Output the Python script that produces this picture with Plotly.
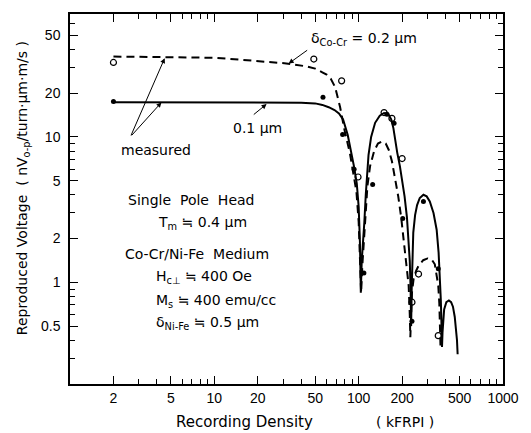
import plotly.graph_objects as go

# ---- data ----
solid_x = [2, 5, 10, 20, 30, 40, 50, 56, 62, 68, 73, 78, 84, 89, 93, 97, 100, 102, 103.5,
           105, 107, 109.5, 112, 114, 117, 122, 130, 140, 150, 160, 168, 174, 179, 185, 193,
           200, 208, 216, 222, 226, 229, 231, 233, 236, 239, 246, 254, 265, 281, 296, 311,
           330, 347, 358, 366, 371, 375, 378, 381, 384, 391, 405, 422, 437, 450, 463, 474,
           480, 485]
solid_y = [17.3, 17.3, 17.3, 17.3, 17.3, 17.2, 17.0, 16.6, 16.0, 15.3, 14.5, 13.2, 10.3, 7.9,
           6.2, 4.8, 3.3, 1.9, 0.85,
           1.4, 1.8, 2.6, 4.0, 5.3, 7.5, 10.0, 12.5, 14.0, 14.6, 14.4, 13.2, 11.5, 9.5, 7.8, 6.3,
           5.1, 3.9, 2.8, 2.0, 1.4, 0.9, 0.5, 0.9, 1.6, 2.2, 2.9, 3.4, 3.8, 4.0, 3.9, 3.6,
           3.0, 2.3, 1.6, 1.1, 0.75, 0.5, 0.36, 0.45, 0.55, 0.65, 0.73, 0.75, 0.73, 0.68, 0.58, 0.47,
           0.4, 0.32]

dash_x = [2, 5, 10, 15, 20.6, 31.5, 43, 50, 56, 60, 64, 68.7, 74.4, 80, 87, 91.5, 96.5, 100,
          102.5, 104, 106, 110, 115, 120, 128, 136, 145, 154, 162, 170, 180, 188, 197, 204,
          210, 216, 222, 226, 228, 231, 234, 240, 250, 260, 280, 300, 320, 337, 350, 356,
          362, 366, 369]
dash_y = [35.7, 35.5, 35.0, 34.0, 33.3, 32.0, 30.6, 29.5, 27.8, 26.8, 25.2, 22.0, 16.0, 11.0,
          7.7, 5.9, 4.2, 2.6,
          1.4, 0.85, 1.3, 2.4, 4.6, 6.3, 8.0, 9.0, 9.3, 9.0, 8.1, 6.8, 5.1, 3.9, 2.8, 2.1,
          1.6, 1.25, 0.95, 0.6, 0.42, 0.6, 0.85, 1.05, 1.2, 1.3, 1.42, 1.46, 1.44, 1.33, 1.1, 0.95,
          0.72, 0.55, 0.36]

meas01_x = [2, 56.6, 77.4, 93, 108.7, 125, 157, 176, 202, 234, 281, 356]
meas01_y = [17.5, 18.7, 10.4, 6.0, 1.16, 4.7, 14.3, 12.4, 2.75, 0.54, 3.6, 1.24]

meas02_x = [2, 48.9, 76.2, 99, 150, 170, 200, 234, 260, 356]
meas02_y = [32.5, 34.3, 24.3, 5.3, 14.7, 13.4, 7.1, 0.73, 1.14, 0.43]

x_major = [2, 5, 10, 20, 50, 100, 200, 500, 1000]
x_major_text = ["2", "5", "10", "20", "50", "100", "200", "500", "1000"]
x_minor = [1, 3, 4, 6, 7, 8, 9, 30, 40, 60, 70, 80, 90, 300, 400, 600, 700, 800, 900]
y_major = [0.5, 1, 2, 5, 10, 20, 50]
y_major_text = ["0.5", "1", "2", "5", "10", "20", "50"]
y_minor = [0.3, 0.4, 0.6, 0.7, 0.8, 0.9, 3, 4, 6, 7, 8, 9, 30, 40, 60]

# ---- layout geometry (pixels of the 531x433 page) ----
L, R, T, B = 70, 509, 13, 384
W, H = 531, 433


def px(X):
    return (X - L) / (R - L)


def py(Y):
    return (B - Y) / (B - T)


FONT = "DejaVu Sans"
fig = go.Figure()
fig.add_trace(go.Scatter(x=solid_x, y=solid_y, mode="lines",
                         line=dict(color="black", width=2), showlegend=False))
fig.add_trace(go.Scatter(x=dash_x, y=dash_y, mode="lines",
                         line=dict(color="black", width=2, dash="8px,5px"), showlegend=False))
fig.add_trace(go.Scatter(x=meas01_x, y=meas01_y, mode="markers",
                         marker=dict(symbol="circle", size=5, color="black"), showlegend=False))
fig.add_trace(go.Scatter(x=meas02_x, y=meas02_y, mode="markers",
                         marker=dict(symbol="circle-open", size=6, color="black",
                                     line=dict(width=1.2)), showlegend=False))

axis_common = dict(type="log", showline=True, linecolor="black", linewidth=1.5,
                   ticks="inside", ticklen=8, tickwidth=1, tickcolor="black",
                   mirror="ticks", showgrid=False, zeroline=False,
                   tickfont=dict(family="Liberation Sans", size=14, color="black"))

fig.update_xaxes(range=[0, 3], tickvals=x_major, ticktext=x_major_text,
                 minor=dict(tickvals=x_minor, ticks="inside", ticklen=5,
                            tickcolor="black", showgrid=False),
                 **axis_common)
fig.update_yaxes(range=[-0.69897, 1.845098], tickvals=y_major, ticktext=y_major_text,
                 minor=dict(tickvals=y_minor, ticks="inside", ticklen=5,
                            tickcolor="black", showgrid=False),
                 ticklabelstandoff=5,
                 **axis_common)

ann = []


def text(X, Y, s, anchor="left", size=14):
    ann.append(dict(x=px(X), y=py(Y), xref="paper", yref="paper", text=s,
                    showarrow=False, xanchor=anchor, yanchor="middle",
                    font=dict(family=FONT, size=size, color="black")))


def arrow(Xh, Yh, Xt, Yt):
    ann.append(dict(x=px(Xh), y=py(Yh), xref="paper", yref="paper", text="",
                    showarrow=True, ax=Xt - Xh, ay=Yt - Yh, arrowhead=2,
                    arrowsize=1, arrowwidth=1, arrowcolor="black", standoff=0))


NB = "\u00a0"
text(312, 38, "δ<sub>Co-Cr</sub>" + NB + "=" + NB + "0.2" + NB + "µm")
arrow(291.7, 62.7, 311.7, 48.3)
text(233, 127, "0.1" + NB + "µm")
arrow(269.3, 103.3, 255, 115)
text(120, 149, "measured")
arrow(166, 57.3, 131.7, 136)
arrow(162.7, 101.7, 131.7, 136)
text(127, 200, "Single" + NB * 2 + "Pole" + NB * 2 + "Head")
text(157, 223, "T<sub>m</sub>" + NB + "≒" + NB + "0.4" + NB + "µm")
text(124, 254, "Co-Cr/Ni-Fe" + NB * 2 + "Medium")
text(155, 277, "H<sub>c⊥</sub>" + NB + "≒" + NB + "400" + NB + "Oe")
text(155, 301, "M<sub>s</sub>" + NB + "≒" + NB + "400" + NB + "emu/cc")
text(155, 323, "δ<sub>Ni-Fe</sub>" + NB + "≒" + NB + "0.5" + NB + "µm")

# axis titles
text(247, 422, "Recording" + NB + "Density", anchor="center", size=15)
text(410, 422, "(" + NB + "kFRPI" + NB + ")", anchor="center", size=14)
ann.append(dict(x=px(22), y=py(188), xref="paper", yref="paper",
                text="Reproduced" + NB + "Voltage" + NB * 2 + "(" + NB + "nV<sub>o-p</sub>/turn·µm·m/s" + NB + ")",
                showarrow=False, xanchor="center", yanchor="middle", textangle=-90,
                font=dict(family=FONT, size=14, color="black")))

fig.update_layout(width=W, height=H, margin=dict(l=L, r=W - R, t=T, b=H - B),
                  paper_bgcolor="white", plot_bgcolor="white", annotations=ann,
                  showlegend=False)

fig.write_html("out.html", config={"displayModeBar": False},
               post_script="document.body.style.margin='0';document.body.style.overflow='hidden';")
